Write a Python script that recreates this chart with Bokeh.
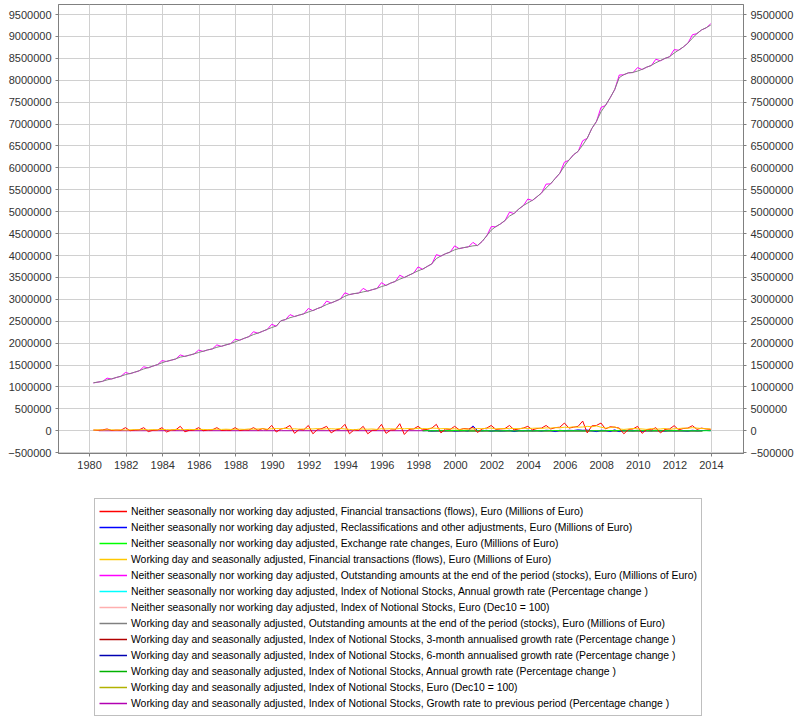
from bokeh.plotting import figure
from bokeh.layouts import column
from bokeh.models import (ColumnDataSource, Range1d, LinearAxis, FixedTicker,
                          BasicTickFormatter, Legend, LegendItem)
from bokeh.embed import file_html
from bokeh.resources import INLINE

# ---------------- data (thousands of euro unless stated) ----------------
years = list(range(1980, 2014))          # quarterly series, 1980Q1 .. 2013Q4
quarter_months = [3, 6, 9, 12]

stocks_sa = [
    1095, 1110, 1130, 1160,  1185, 1215, 1245, 1280,  1305, 1335, 1370, 1410,
    1440, 1475, 1510, 1550,  1585, 1610, 1640, 1680,  1700, 1725, 1755, 1785,
    1815, 1845, 1870, 1905,  1930, 1960, 1990, 2030,  2070, 2110, 2150, 2195,
    2230, 2270, 2315, 2355,  2390, 2510, 2540, 2580,  2610, 2640, 2670, 2710,
    2745, 2790, 2830, 2880,  2920, 2960, 3010, 3070,  3110, 3130, 3145, 3170,
    3190, 3220, 3250, 3290,  3320, 3370, 3410, 3460,  3500, 3550, 3600, 3650,
    3690, 3750, 3810, 3930,  3990, 4040, 4080, 4130,  4160, 4180, 4200, 4220,
    4230, 4320, 4450, 4580,  4660, 4720, 4800, 4900,  4960, 5060, 5140, 5200,
    5260, 5340, 5430, 5540,  5640, 5760, 5880, 6040,  6180, 6300, 6380, 6520,
    6680, 6900, 7060, 7280,  7430, 7600, 7790, 8060,  8130, 8170, 8180, 8210,
    8250, 8300, 8340, 8400,  8450, 8500, 8540, 8620,  8690, 8760, 8850, 8960,
    9070, 9150, 9200, 9260,
]
stocks_nsa = [
    1090, 1110, 1125, 1200,  1180, 1215, 1240, 1330,  1300, 1335, 1365, 1460,
    1435, 1475, 1505, 1600,  1580, 1610, 1635, 1730,  1695, 1725, 1750, 1840,
    1810, 1845, 1865, 1960,  1925, 1960, 1985, 2090,  2065, 2110, 2145, 2260,
    2225, 2270, 2310, 2430,  2385, 2510, 2535, 2650,  2605, 2640, 2665, 2790,
    2740, 2790, 2825, 2960,  2915, 2960, 3005, 3150,  3105, 3130, 3140, 3250,
    3185, 3220, 3245, 3380,  3315, 3370, 3405, 3550,  3495, 3550, 3595, 3740,
    3685, 3750, 3805, 4020,  3985, 4040, 4075, 4220,  4155, 4180, 4195, 4300,
    4225, 4320, 4445, 4660,  4655, 4720, 4795, 4990,  4955, 5060, 5135, 5290,
    5255, 5340, 5425, 5630,  5635, 5760, 5875, 6130,  6175, 6300, 6375, 6620,
    6675, 6900, 7055, 7380,  7425, 7600, 7785, 8120,  8125, 8170, 8175, 8290,
    8245, 8300, 8335, 8480,  8445, 8500, 8535, 8700,  8685, 8760, 8845, 9040,
    9065, 9150, 9195, 9290,
]
flows_nsa = [
    15, 10, 20, 40,    5, 15, 10, 70,    0, 15, 20, 70,  -20, 10, 15, 70,
    -30, 15, 20, 100, -25, 10, 15, 70,   0, 15, 20, 70,    5, 15, 10, 70,
    5, 20, 15, 70,    10, 50, 20, 120, -30, 40, 60, 120, -60, 30, 20, 120,
    -70, 30, 50, 100, -50, 20, 40, 145, -70, 20, 10, 100, -70, 10, 15, 145,
    -60, 15, 20, 160, -85, 30, 40, 100,  20, 30, 60, 145, -50, 40, 30, 100,
    20, 50, 40, 80,  -40, 40, 60, 120,  30, 40, 50, 120,  20, 40, 60, 100,
    20, 50, 60, 120,  40, 70, 80, 175,  60, 80, 100, 220, -50, 110, 120, 175,
    40, 90, 80, 60,  -70, 30, 40, 100, -60, 30, 20, 70,  -50, 30, 40, 115,
    20, 50, 60, 115,  30, 60, 40, 30,
]
flows_sa = [
    15, 20, 15, 20,  20, 15, 20, 15,  20, 25, 20, 25,  20, 25, 20, 30,
    25, 20, 30, 25,  25, 30, 25, 30,  30, 25, 30, 35,  30, 35, 30, 35,
    35, 30, 40, 35,  40, 45, 35, 45,  50, 45, 55, 40,  45, 35, 40, 45,
    40, 50, 35, 45,  45, 40, 50, 40,  30, 20, 35, 40,  35, 40, 30, 45,
    40, 45, 40, 50,  45, 50, 40, 55,  50, 45, 60, 55,  45, 50, 40, 45,
    30, 40, 35, 40,  50, 45, 55, 60,  40, 50, 45, 55,  50, 45, 60, 50,
    55, 60, 50, 65,  60, 70, 65, 80,  75, 90, 80, 85,  100, 90, 110, 80,
    60, 70, 90, 40,  30, 40, 50, 45,  40, 30, 50, 35,  40, 50, 30, 45,
    50, 60, 55, 70,  60, 50, 45, 40,
]

new_years = list(range(1998, 2014))      # quarterly, 1998Q1 .. 2013Q4
reclassifications = [
    0, 5, -5, 0,   5, 0, 10, -5,   0, 5, -5, 110,  5, 0, 10, -10,
    5, -5, 0, 10,  -20, 5, 0, 10,  0, 5, -5, 10,   5, -20, 10, 0,
    10, 5, 20, 10,  15, 0, -20, 10,  5, -15, 20, -20,  10, 5, 0, 10,
    -10, 5, 0, 10,  5, -5, 10, 0,   5, 0, -5, 10,   0, 5, 5, 0,
]
fx_changes = [
    0, 2, -1, 1,  1, 3, 2, 4,  2, 3, -2, -3,  1, -2, 2, -4,
    -5, -3, 1, -2, -4, -2, 1, -3, -2, 1, -1, -2, 3, 2, 4, -1,
    -1, 1, -2, -3, -2, -1, 1, -3, 1, 4, 2, 3,  -2, 1, -3, 2,
    3, 4, -1, 2,  1, 2, -2, 3,  1, -1, 0, -2,  -1, -2, 1, 0,
]

# annual values (percentages / index), 1998 .. 2013
idx_years = list(range(1998, 2014))
nsa_annual_growth = [7.2, 6.8, 3.5, 8.2, 7.5, 6.0, 6.5, 8.9, 9.6, 10.9, 10.2, 1.8, 2.8, 2.9, 4.0, 4.3]
nsa_index = [45, 48, 50, 54, 58, 61, 65, 71, 78, 86, 95, 97, 100, 103, 107, 111]
sa_3m_growth = [7.5, 6.2, 3.1, 9.0, 7.0, 6.3, 7.1, 9.5, 10.2, 11.8, 8.5, 1.2, 3.0, 3.4, 4.8, 3.9]
sa_6m_growth = [7.3, 6.5, 3.3, 8.6, 7.2, 6.1, 6.8, 9.2, 9.9, 11.3, 9.4, 1.5, 2.9, 3.1, 4.4, 4.1]
sa_annual_growth = [7.2, 6.8, 3.5, 8.2, 7.5, 6.0, 6.5, 8.9, 9.6, 10.9, 10.2, 1.8, 2.8, 2.9, 4.0, 4.3]
sa_index = [45, 48, 50, 54, 58, 61, 65, 71, 78, 86, 95, 97, 100, 103, 107, 111]
# growth rate to previous period (%), annual averages 1980 .. 2013
prev_period_growth = [0.8, 0.8, 0.8, 0.8, 0.7, 0.6, 0.6, 0.6, 0.7, 0.8, 0.9, 0.6,
                      0.5, 0.6, 0.4, 0.3, 0.4, 0.5, 0.6, 0.5, 0.3, 0.7, 0.6, 0.5,
                      0.5, 0.7, 0.8, 0.9, 0.8, 0.2, 0.2, 0.2, 0.3, 0.4]

labels = [
    "Neither seasonally nor working day adjusted, Financial transactions (flows), Euro (Millions of Euro)",
    "Neither seasonally nor working day adjusted, Reclassifications and other adjustments, Euro (Millions of Euro)",
    "Neither seasonally nor working day adjusted, Exchange rate changes, Euro (Millions of Euro)",
    "Working day and seasonally adjusted, Financial transactions (flows), Euro (Millions of Euro)",
    "Neither seasonally nor working day adjusted, Outstanding amounts at the end of the period (stocks), Euro (Millions of Euro)",
    "Neither seasonally nor working day adjusted, Index of Notional Stocks, Annual growth rate (Percentage change )",
    "Neither seasonally nor working day adjusted, Index of Notional Stocks, Euro (Dec10 = 100)",
    "Working day and seasonally adjusted, Outstanding amounts at the end of the period (stocks), Euro (Millions of Euro)",
    "Working day and seasonally adjusted, Index of Notional Stocks, 3-month annualised growth rate (Percentage change )",
    "Working day and seasonally adjusted, Index of Notional Stocks, 6-month annualised growth rate (Percentage change )",
    "Working day and seasonally adjusted, Index of Notional Stocks, Annual growth rate (Percentage change )",
    "Working day and seasonally adjusted, Index of Notional Stocks, Euro (Dec10 = 100)",
    "Working day and seasonally adjusted, Index of Notional Stocks, Growth rate to previous period (Percentage change )",
]
colors = ["#ff0000", "#0000ff", "#00ff00", "#ffc800", "#ff00ff", "#00ffff", "#ffafaf",
          "#808080", "#b20000", "#0000b2", "#00b200", "#b2b200", "#b200b2"]

x_ticks = list(range(1980, 2015, 2))
y_ticks = list(range(-500000, 9500001, 500000))

# ---------------- build ----------------
def qx(yrs):
    return [y + (m - 0.5) / 12 for y in yrs for m in quarter_months]

def ax_(yrs):
    return [y + 0.5 for y in yrs]

def k(vals):
    return [v * 1000 for v in vals]

series = [
    (qx(years), k(flows_nsa)),
    (qx(new_years), k(reclassifications)),
    (qx(new_years), k(fx_changes)),
    (qx(years), k(flows_sa)),
    (qx(years), k(stocks_nsa)),
    (ax_(idx_years), nsa_annual_growth),
    (ax_(idx_years), nsa_index),
    (qx(years), k(stocks_sa)),
    (ax_(idx_years), sa_3m_growth),
    (ax_(idx_years), sa_6m_growth),
    (ax_(idx_years), sa_annual_growth),
    (ax_(idx_years), sa_index),
    (ax_(years), prev_period_growth),
]
sources = [ColumnDataSource(data=dict(x=xs, y=ys)) for xs, ys in series]

p = figure(width=798, height=480, output_backend="svg", toolbar_location=None,
           x_range=Range1d(1978.3, 2015.75), y_range=Range1d(-520000, 9730000),
           min_border_left=58, min_border_right=55, min_border_top=4,
           min_border_bottom=27)
p.background_fill_color = "white"
p.border_fill_color = "white"
p.outline_line_color = "#808080"

font = "Liberation Sans"
fmt = BasicTickFormatter(use_scientific=False)

def style_axis(a, ticks):
    a.ticker = FixedTicker(ticks=ticks)
    a.axis_line_color = "#808080"
    a.major_tick_line_color = "#808080"
    a.major_tick_out = 3
    a.major_tick_in = 0
    a.minor_tick_line_color = None
    a.major_label_text_font = font
    a.major_label_text_font_size = "11px"
    a.major_label_text_color = "#333333"
    a.major_label_standoff = 4

style_axis(p.xaxis[0], x_ticks)
style_axis(p.yaxis[0], y_ticks)
p.yaxis[0].formatter = fmt
ra = LinearAxis(formatter=fmt)
style_axis(ra, y_ticks)
p.add_layout(ra, "right")

p.xgrid.ticker = FixedTicker(ticks=x_ticks)
p.ygrid.ticker = FixedTicker(ticks=y_ticks)
p.xgrid.grid_line_color = "#d0d0d0"
p.ygrid.grid_line_color = "#d0d0d0"

# drawing order: index/growth series at the bottom, then stocks, then flows
draw_order = [5, 6, 8, 9, 10, 11, 12, 4, 7, 1, 2, 0, 3]
for i in draw_order:
    p.line("x", "y", source=sources[i], line_color=colors[i], line_width=1)

# ---------------- legend panel (separate figure below the chart) ----------------
# the key renderers are squeezed into the middle of this panel, where the
# opaque legend box covers them, so only the legend keys are visible
lg = figure(width=798, height=236, output_backend="svg", toolbar_location=None,
            x_axis_type=None, y_axis_type=None,
            x_range=Range1d(1960, 2034), y_range=Range1d(-30000000, 25000000),
            min_border_left=58, min_border_right=55, min_border_top=0, min_border_bottom=0)
lg.outline_line_color = None
lg.grid.visible = False
lg.background_fill_color = "white"
lg.border_fill_color = "white"

key_renderers = [lg.line("x", "y", source=sources[i], line_color=colors[i], line_width=1.5)
                 for i in range(13)]
items = [LegendItem(label=labels[i], renderers=[key_renderers[i]]) for i in range(13)]
legend = Legend(items=items, location=(36, 0))
legend.border_line_color = "#808080"
legend.border_line_width = 1
legend.background_fill_color = "white"
legend.background_fill_alpha = 1
legend.label_text_font = font
legend.label_text_font_size = "10.4px"
legend.label_text_color = "#000000"
legend.label_height = 16
legend.glyph_height = 16
legend.glyph_width = 28
legend.label_standoff = 4
legend.spacing = 0
legend.padding = 4
legend.margin = 0
lg.add_layout(legend, "center")

page = column(p, lg, spacing=0)
open("out.html", "w").write(file_html(page, INLINE))
